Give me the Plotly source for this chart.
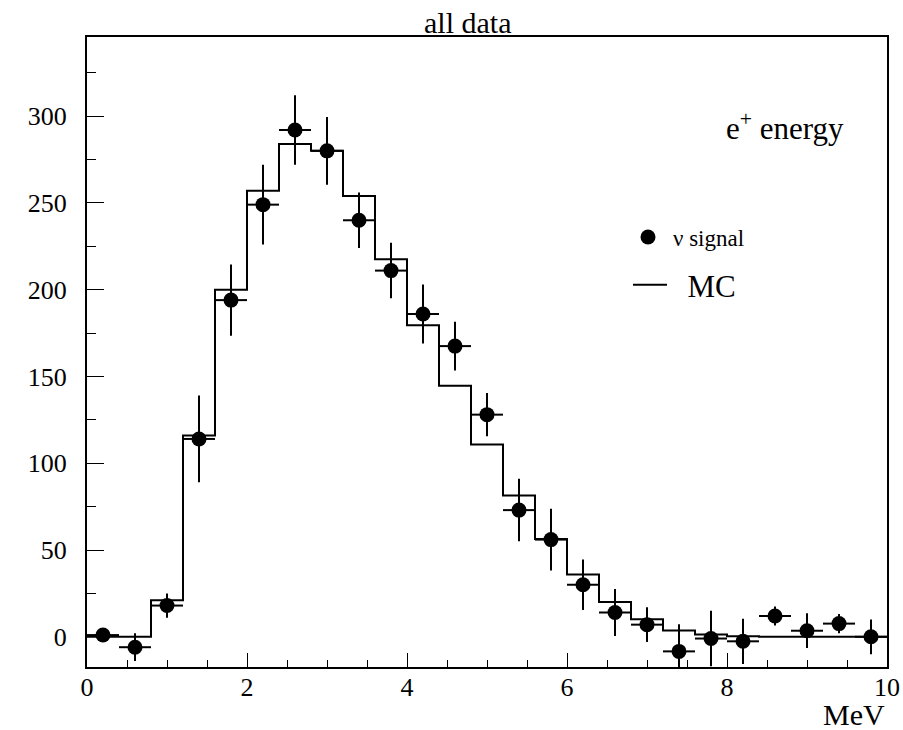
import plotly.graph_objects as go

# ---- data ----
bin_edges = [0.0, 0.4, 0.8, 1.2, 1.6, 2.0, 2.4, 2.8, 3.2, 3.6, 4.0, 4.4, 4.8,
             5.2, 5.6, 6.0, 6.4, 6.8, 7.2, 7.6, 8.0, 8.4, 8.8, 9.2, 9.6, 10.0]
bin_centers = [0.2, 0.6, 1.0, 1.4, 1.8, 2.2, 2.6, 3.0, 3.4, 3.8, 4.2, 4.6, 5.0,
               5.4, 5.8, 6.2, 6.6, 7.0, 7.4, 7.8, 8.2, 8.6, 9.0, 9.4, 9.8]
signal = [1, -6, 18, 114, 194, 249, 292, 280, 240, 211, 186, 167.5, 128,
          73, 56, 30, 14, 7, -8.4, -1, -2.6, 12, 3.5, 7.6, 0]
signal_err = [2, 8, 7, 25, 20.5, 23, 20, 19.5, 16, 16, 17, 14, 12.5,
              18, 17.8, 14.6, 13.5, 10, 15.6, 16, 13, 5.5, 10, 5.6, 10]
half_bin = 0.2
mc = [0, 0, 21, 116, 200, 257, 284, 280, 254, 217.5, 179.5, 144.6, 110.8,
      81.4, 56.4, 35.9, 20.1, 10.1, 3.7, 1.3, 0.3, 0, 0, 0, 0]

x_ticks = [0, 2, 4, 6, 8, 10]
y_ticks = [0, 50, 100, 150, 200, 250, 300]

FONT = "Liberation Serif"

fig = go.Figure()

# MC histogram as a step line
fig.add_trace(go.Scatter(
    x=bin_edges, y=mc + [mc[-1]], mode="lines", line_shape="hv",
    line=dict(color="black", width=2), name="\u00a0\u00a0MC", legend="legend2",
))

# data points
fig.add_trace(go.Scatter(
    x=bin_centers, y=signal, mode="markers",
    marker=dict(color="black", size=15),
    error_y=dict(type="data", array=signal_err, color="black", thickness=2, width=0),
    error_x=dict(type="constant", value=half_bin, color="black", thickness=2, width=0),
    name="ν signal", legend="legend",
))

fig.update_layout(
    width=903, height=730,
    margin=dict(l=87, r=16, t=37, b=63, autoexpand=False),
    paper_bgcolor="white", plot_bgcolor="white",
    font=dict(family=FONT, color="black", size=26),
    xaxis=dict(
        range=[0, 10], tickvals=x_ticks, ticktext=[str(v) for v in x_ticks],
        ticks="inside", ticklen=14, tickwidth=1, tickcolor="black",
        minor=dict(dtick=0.5, tick0=0, ticks="inside", ticklen=7, tickwidth=1, tickcolor="black"),
        showline=True, linecolor="black", linewidth=2, mirror=True, automargin=False,
        showgrid=False, zeroline=False, ticklabelstandoff=-4,
        tickfont=dict(family=FONT, size=26),
    ),
    yaxis=dict(
        range=[-17.4, 345.6], tickvals=y_ticks, ticktext=[str(v) for v in y_ticks],
        ticks="inside", ticklen=17, tickwidth=1, tickcolor="black",
        minor=dict(dtick=25, tick0=0, ticks="inside", ticklen=9, tickwidth=1, tickcolor="black"),
        showline=True, linecolor="black", linewidth=2, mirror=True, automargin=False,
        showgrid=False, zeroline=False, ticklabelstandoff=13,
        tickfont=dict(family=FONT, size=26),
    ),
    legend=dict(x=(623 - 87) / 800, y=(667 - 237) / 630, xanchor="left", yanchor="middle",
                bgcolor="rgba(0,0,0,0)", borderwidth=0, itemwidth=40,
                font=dict(family=FONT, size=23)),
    legend2=dict(x=(628 - 87) / 800, y=(667 - 285) / 630, xanchor="left", yanchor="middle",
                 bgcolor="rgba(0,0,0,0)", borderwidth=0, itemwidth=34,
                 font=dict(family=FONT, size=31)),
    showlegend=True,
    annotations=[
        dict(text="all data", xref="paper", yref="paper", x=(467 - 87) / 800, y=(667 - 22.5) / 630,
             xanchor="center", yanchor="middle", showarrow=False, font=dict(family=FONT, size=30)),
        dict(text="e<sup>+</sup> energy", xref="paper", yref="paper", x=(846 - 87) / 800,
             y=(667 - 126) / 630, xanchor="right", yanchor="middle", showarrow=False,
             font=dict(family=FONT, size=31)),
        dict(text="MeV", xref="paper", yref="paper", x=1.0, y=(667 - 714) / 630,
             xanchor="right", yanchor="middle", showarrow=False, font=dict(family=FONT, size=30)),
    ],
)

fig.write_html("out.html")
